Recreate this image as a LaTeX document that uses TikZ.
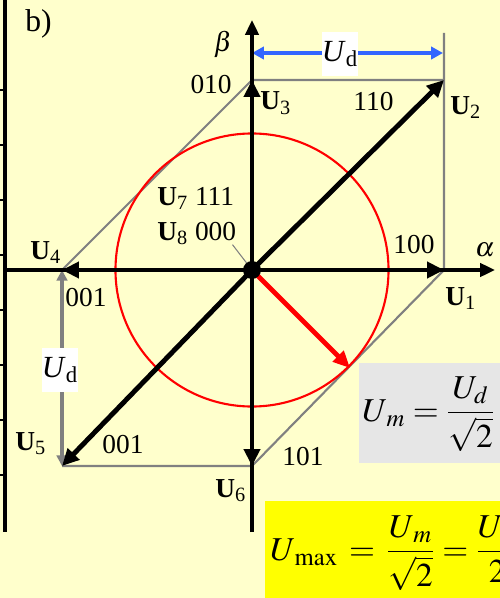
\documentclass[tikz,border=0pt]{standalone}
\usepackage{mathptmx}
\usepackage[no-math]{fontspec}
\setmainfont{Liberation Serif}
\usetikzlibrary{arrows.meta}

\definecolor{bgyellow}{RGB}{255,255,204}
\definecolor{dimblue}{RGB}{51,102,255}
\definecolor{hexgray}{RGB}{128,128,128}
\definecolor{boxgray}{RGB}{230,230,230}
\definecolor{hiyellow}{RGB}{255,255,0}

\newcommand\lblsize{\fontsize{15.6pt}{18pt}\selectfont}
\newcommand\dimsize{\fontsize{17.5pt}{20pt}\selectfont}
\newcommand\eqsize{\fontsize{19pt}{23pt}\selectfont}

\begin{document}
\begin{tikzpicture}[x=0.02cm, y=-0.02cm,
    vec/.style={line width=2.8pt, -{Triangle[length=9.6pt,width=9pt]}},
    axis/.style={line width=2.6pt, -{Triangle[length=8.5pt,width=7.5pt]}},
    edge/.style={draw=hexgray, line width=1.2pt},
    lbl/.style={font=\lblsize, inner sep=0pt, anchor=base west},
    dimlbl/.style={font=\dimsize, fill=white, inner sep=0pt, minimum width=19.3pt, minimum height=25.5pt},
    eq/.style={font=\eqsize, inner sep=0pt, anchor=base west}]

% canvas
\useasboundingbox (0,0) rectangle (500,598);
\clip (0,0) rectangle (500,598);
\fill[bgyellow] (0,0) rectangle (500,598);

% points of the space vector hexagon
\coordinate (O) at (252,270);
\coordinate (U1) at (444,270);
\coordinate (U2) at (444,80);
\coordinate (U3) at (252,80);
\coordinate (U4) at (62,270);
\coordinate (U5) at (62,466);
\coordinate (U6) at (252,466);
\coordinate (Ext) at (444,33);
\coordinate (DimL) at (252,53);
\coordinate (DimR) at (443,53);
\coordinate (Um) at (350,368);

% axes ends
\coordinate (alphaL) at (5,270);
\coordinate (alphaR) at (495,270);
\coordinate (betaB) at (252,532);
\coordinate (betaT) at (252,20);

% left frame with ticks
\draw[line width=2.8pt] (5,0) -- (5,532);
\foreach \ty in {90,145,200,255,310,365,420,475} {
    \draw[line width=1.1pt] (0,\ty) -- (5,\ty);
}

% formula boxes
\fill[boxgray] (359,363) rectangle (510,463);
\fill[hiyellow] (265,501) rectangle (510,610);

% hexagon edges
\draw[edge] (Ext) -- (U1) -- (U6) -- (U5);
\draw[edge] (U2) -- (U3) -- (U4);

% Ud dimensions
\draw[dimblue, line width=2pt, {Triangle[length=6.8pt,width=7pt]}-{Triangle[length=6.8pt,width=7pt]}] (DimL) -- (DimR);
\draw[hexgray, line width=2.2pt, {Triangle[length=6pt,width=6pt]}-{Triangle[length=6pt,width=6pt]}] (U4) -- (U5);
\node[dimlbl] (udtop) at (340,54) {\textit{U}\textsubscript{d}};
\node[dimlbl] (udleft) at (60,370) {\textit{U}\textsubscript{d}};

% circle of the maximum voltage and its vector
\draw[red, line width=1.2pt] (O) circle (77.7pt);
\draw[red, line width=2.8pt, -{Triangle[length=9.6pt,width=8.5pt]}] (O) -- (Um);

% axes
\draw[axis] (alphaL) -- (alphaR);
\draw[axis] (betaB) -- (betaT);

% switching vectors
\foreach \u in {U1,U2,U3,U4,U5,U6} {
    \draw[vec] (O) -- (\u);
}

% zero vectors
\node[lbl] (u7) at (157,205) {\textbf{U}\textsubscript{7} 111};
\node[lbl] (u8) at (157,240) {\textbf{U}\textsubscript{8} 000};
\draw[hexgray, line width=0.6pt] (u8.south east) ++(-4,0) -- (O);
\fill (O) circle (5.1pt);

% axis names
\node[font=\lblsize\itshape, inner sep=0pt] (beta) at (223,44) {$\beta$};
\node[font=\lblsize\itshape, inner sep=0pt] (alpha) at (485,250) {$\alpha$};
\node[font=\fontsize{18pt}{20pt}\selectfont, inner sep=0pt, anchor=base west] (title) at (25,32) {b)};

% vector names and switch states
\node[lbl, anchor=base east] (s010) at (232,93) {010};
\node[lbl] (u3) at (260,110) {\textbf{U}\textsubscript{3}};
\node[lbl] (s110) at (353,111) {110};
\node[lbl] (u2) at (450,114) {\textbf{U}\textsubscript{2}};
\node[lbl] (s100) at (393,253) {100};
\node[lbl] (u1) at (445,305) {\textbf{U}\textsubscript{1}};
\node[lbl] (u4) at (30,259) {\textbf{U}\textsubscript{4}};
\node[lbl] (s001a) at (65,306) {001};
\node[lbl] (u5) at (15,450) {\textbf{U}\textsubscript{5}};
\node[lbl] (s001b) at (102,453) {001};
\node[lbl] (s101) at (282,465) {101};
\node[lbl] (u6) at (215,497) {\textbf{U}\textsubscript{6}};

% formulas
\node[eq] (eqm) at (362,421)
    {$\displaystyle U_{\,m} = \frac{U_{d}}{\sqrt{2}}$};
\node[eq] (eqmax) at (270,560)
    {$\displaystyle U_{\,\mathrm{max}} \,=\, \frac{U_{\,m}}{\sqrt{2}} = \frac{U_{\,d}}{2}$};

\end{tikzpicture}
\end{document}
